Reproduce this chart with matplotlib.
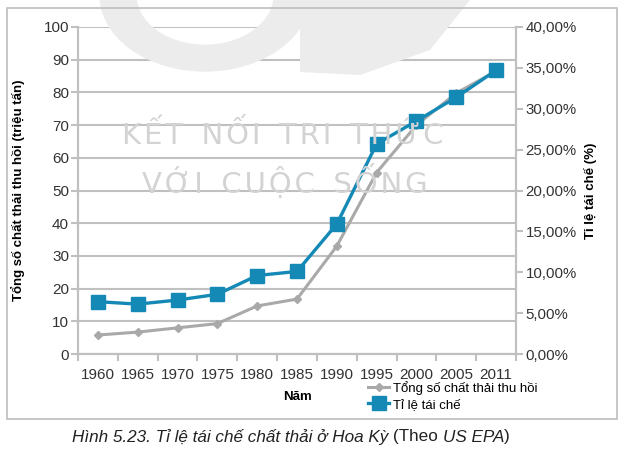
import matplotlib
matplotlib.use("Agg")
import matplotlib.pyplot as plt
from matplotlib.patches import Rectangle, Wedge, Polygon
from matplotlib.ticker import FuncFormatter

years = ["1960", "1965", "1970", "1975", "1980", "1985", "1990", "1995", "2000", "2005", "2011"]
# Tổng số chất thải thu hồi (triệu tấn)
recovered = [5.8, 6.7, 8.0, 9.3, 14.7, 16.8, 33.0, 55.5, 70.0, 79.8, 86.5]
# Tỉ lệ tái chế (%)
recycle_rate = [6.4, 6.1, 6.6, 7.3, 9.6, 10.1, 15.9, 25.7, 28.5, 31.4, 34.7]

blue = "#1589b6"
gray = "#a9a9a9"
grid_c = "#c0c0c0"

plt.rcParams["font.family"] = ["Liberation Sans", "DejaVu Sans"]

fig = plt.figure(figsize=(6.22, 4.51), dpi=100)

# faint watermark shapes (logo)
W, H = 622, 451
def fx(x):
    return x / W
def fy(y):
    return 1 - y / H
wm = "#ececec"
fig.patches.append(Wedge((fx(205), fy(-5)), 0.17, 180, 360, width=0.06,
                         transform=fig.transFigure, facecolor=wm, edgecolor="none", zorder=0))
fig.patches.append(Polygon([(fx(300), fy(0)), (fx(470), fy(0)), (fx(430), fy(50)),
                            (fx(360), fy(75)), (fx(300), fy(72))],
                           closed=True, transform=fig.transFigure, facecolor=wm,
                           edgecolor="none", zorder=0))

ax = fig.add_axes([fx(78), fy(354), fx(516) - fx(78), fy(27) - fy(354)])
ax.patch.set_alpha(0)
ax2 = ax.twinx()

x = list(range(len(years)))
ax.plot(x, recovered, color=gray, lw=2.2, marker="D", markersize=4.5, zorder=3,
        label="Tổng số chất thải thu hồi")
ax2.plot(x, recycle_rate, color=blue, lw=2.4, marker="s", markersize=10, zorder=4,
         label="Tỉ lệ tái chế")

ax.set_xlim(-0.5, len(years) - 0.5)
ax.set_ylim(0, 100)
ax2.set_ylim(0, 40)
ax.set_yticks(range(0, 101, 10))
ax2.set_yticks(range(0, 41, 5))
ax2.yaxis.set_major_formatter(FuncFormatter(lambda v, p: f"{v:.2f}%".replace(".", ",")))

ax.set_xticks([i - 0.5 for i in range(len(years) + 1)])
ax.set_xticklabels([])
ax.set_xticks(x, minor=True)
ax.set_xticklabels(years, minor=True)
ax.tick_params(axis="x", which="minor", length=0, pad=10, labelsize=11, colors="#333333")
ax.tick_params(axis="x", which="major", length=5, width=1.5, color=grid_c)
ax.tick_params(axis="y", length=5, width=1.5, color=grid_c, labelsize=11, labelcolor="#333333",
               pad=1.5)
ax2.tick_params(axis="y", length=5, width=1.5, color=grid_c, labelsize=10.8, labelcolor="#333333",
                pad=2)

ax.grid(axis="y", color=grid_c, lw=1.5, zorder=1)
for a in (ax, ax2):
    a.spines["top"].set_visible(False)
    for s in ("left", "right", "bottom"):
        a.spines[s].set_color(grid_c)
        a.spines[s].set_linewidth(1.5)

ax.set_ylabel("Tổng số chất thải thu hồi (triệu tấn)", fontsize=9.5, fontweight="bold")
ax.yaxis.set_label_coords(-0.122, 0.5)
ax2.set_ylabel("Tỉ lệ tái chế (%)", fontsize=9.5, fontweight="bold")
ax2.yaxis.set_label_coords(1.155, 0.5)
fig.text(fx(298), fy(397), "Năm", ha="center", va="center", fontsize=9.5, fontweight="bold")

# watermark text
hs = "\u200a"
line1 = "  ".join(hs.join(w) for w in ["KẾT", "NỐI", "TRI", "THỨC"])
line2 = "  ".join(hs.join(w) for w in ["VỚI", "CUỘC", "SỐNG"])
fig.text(fx(283), fy(135), line1, ha="center", va="center",
         fontsize=21, color="#d3d3d3", zorder=0, family="DejaVu Sans")
fig.text(fx(285), fy(182), line2, ha="center", va="center",
         fontsize=21, color="#d3d3d3", zorder=0, family="DejaVu Sans")

h1, l1 = ax.get_legend_handles_labels()
h2, l2 = ax2.get_legend_handles_labels()
fig.legend(h1 + h2, l1 + l2, loc="upper left", bbox_to_anchor=(fx(368), fy(381)),
           frameon=False, fontsize=9.5, handlelength=1.6, handletextpad=0.3,
           labelspacing=0.3, borderaxespad=0, borderpad=0)

# border box
fig.patches.append(Rectangle((fx(7), fy(419)), fx(617) - fx(7), fy(8) - fy(419),
                             transform=fig.transFigure, fill=False, edgecolor="#bdbdbd", lw=1.2))

# caption with mixed italic
cap_size = 12.3
t1 = fig.text(fx(72), fy(437), "Hình 5.23. Tỉ lệ tái chế chất thải ở Hoa Kỳ ", fontsize=cap_size,
              style="italic", va="center", color="#222222")
fig.canvas.draw()
r = fig.canvas.get_renderer()
bb = t1.get_window_extent(r)
t2 = fig.text(bb.x1 / fig.bbox.width, fy(437), "(Theo ", fontsize=cap_size, va="center",
              color="#222222")
bb = t2.get_window_extent(r)
t3 = fig.text(bb.x1 / fig.bbox.width, fy(437), "US EPA", fontsize=cap_size, style="italic",
              va="center", color="#222222")
bb = t3.get_window_extent(r)
fig.text(bb.x1 / fig.bbox.width, fy(437), ")", fontsize=cap_size, va="center", color="#222222")

fig.savefig("out.png", dpi=100)
plt.close(fig)
